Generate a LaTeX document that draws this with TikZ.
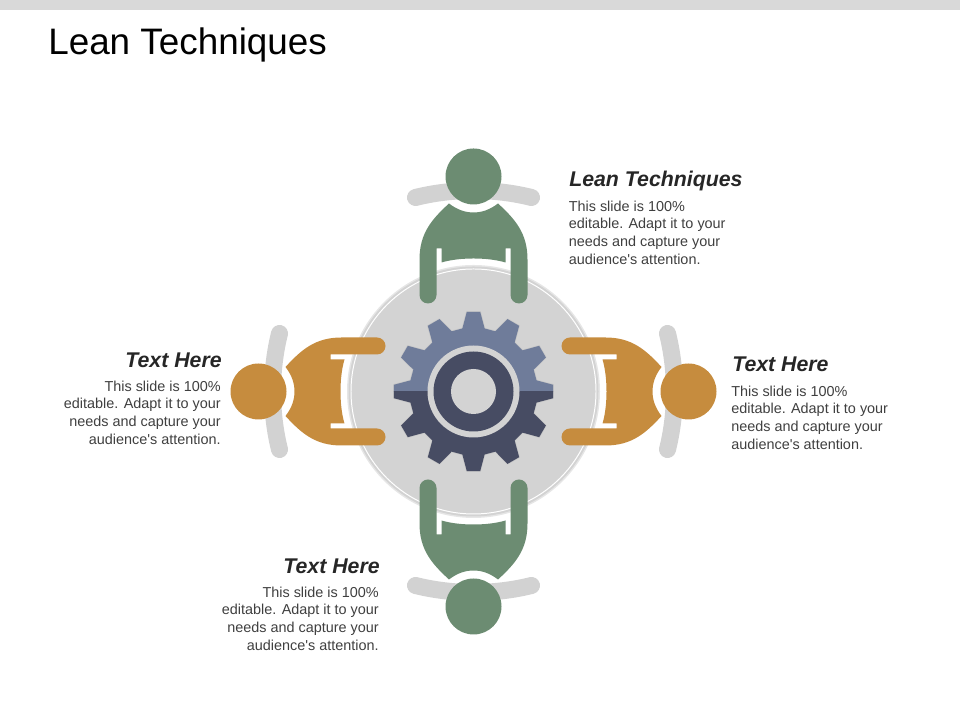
\documentclass[tikz,border=0pt]{standalone}
\usepackage{fontspec}
\setmainfont{Liberation Sans}
\definecolor{chairgray}{HTML}{D2D2D2}
\definecolor{tablegray}{HTML}{D3D3D3}
\definecolor{tablerim}{HTML}{E6E6E6}
\definecolor{bargray}{HTML}{D9D9D9}
\definecolor{leangreen}{HTML}{6C8C72}
\definecolor{leanorange}{HTML}{C68C3E}
\definecolor{gearlight}{HTML}{6F7C9A}
\definecolor{geardark}{HTML}{474C63}
\definecolor{inktext}{HTML}{3F3F3F}
\tikzset{
  heading/.style={font=\fontsize{15.15}{18}\selectfont\bfseries\itshape,text=black!85,inner sep=0pt},
  bodyleft/.style={font=\fontsize{10.25}{12.55}\selectfont,text=inktext,align=left,inner sep=0pt},
  bodyright/.style={font=\fontsize{10.25}{12.55}\selectfont,text=inktext,align=right,inner sep=0pt},
}
\begin{document}
\begin{tikzpicture}[x=0.025cm,y=0.025cm,line join=round,line cap=round]
    \def\person[#1,#2]{
        \begin{scope}[shift={(473.5,328.5)},rotate=#1]
            \draw[chairgray,line width=12.1pt] (-58,194) .. controls (-40,198.5) and (-20,201) .. (0,201) .. controls (20,201) and (40,198.5) .. (58,194);
            \fill[#2] (0,215) circle (28);
            \fill[#2] (-24.5,188) .. controls (-16,181.5) and (-8,179) .. (0,179) .. controls (8,179) and (16,181.5) .. (24.5,188)
                .. controls (42,172) and (54,158) .. (54,132) -- (54,96.5) arc (0:-180:8.5) -- (37,143) -- (32,143) -- (32,129)
                .. controls (22,132) and (10,133) .. (0,133) .. controls (-10,133) and (-22,132) .. (-32,129)
                -- (-32,143) -- (-37,143) -- (-37,96.5) arc (0:-180:8.5) -- (-54,132)
                .. controls (-54,158) and (-42,172) .. (-24.5,188) -- cycle;
        \end{scope}
    }
    \def\gearpath{
        \foreach \a in {0,30,...,330} {
            -- ({\a-10}:64) -- ({\a-4.8}:80) -- ({\a+4.8}:80) -- ({\a+10}:64)
        }
    }
    \useasboundingbox (0,0) rectangle (960,720);
    \fill[bargray] (0,709.5) rectangle (960,720);
    \node[anchor=base west,inner sep=0pt,font=\fontsize{26.2}{32}\selectfont] (title) at (48,665.5) {Lean Techniques};
    % table
    \coordinate (tbl) at (473.5,328.5);
    \fill[tablerim] (tbl) circle (126.5);
    \fill[tablegray] (tbl) circle (125);
    \draw[white,line width=0.7pt] (tbl) circle (122.5);
    % people
    \person[0,leangreen]
    \person[90,leanorange]
    \person[180,leangreen]
    \person[-90,leanorange]
    % gear
    \begin{scope}[shift={(tbl)}]
        \draw[black!22,line width=1pt] (-10:64) \gearpath -- cycle;
        \begin{scope}
            \clip (-90,0) rectangle (90,90);
            \fill[gearlight] (-10:64) \gearpath -- cycle;
        \end{scope}
        \begin{scope}
            \clip (-90,-90) rectangle (90,0);
            \fill[geardark] (-10:64) \gearpath -- cycle;
        \end{scope}
        \fill[tablegray] (0,0) circle (46);
        \fill[geardark] (0,0) circle (40);
        \fill[tablegray] (0,0) circle (22.5);
    \end{scope}
    % texts
    \node[heading,anchor=west] (headtop) at (569,538.5) {Lean Techniques};
    \node[bodyleft,anchor=north west] (texttop) at (568.5,519.5) {This slide is 100\%\\editable. Adapt it to your\\needs and capture your\\audience\textquotesingle s attention.};
    \node[heading,anchor=east] (headleft) at (222,360) {Text Here};
    \node[bodyright,anchor=north east] (textleft) at (221,339.5) {This slide is 100\%\\editable. Adapt it to your\\needs and capture your\\audience\textquotesingle s attention.};
    \node[heading,anchor=west] (headright) at (732,356) {Text Here};
    \node[bodyleft,anchor=north west] (textright) at (731,334.5) {This slide is 100\%\\editable. Adapt it to your\\needs and capture your\\audience\textquotesingle s attention.};
    \node[heading,anchor=east] (headbottom) at (380,154) {Text Here};
    \node[bodyright,anchor=north east] (textbottom) at (379,133.5) {This slide is 100\%\\editable. Adapt it to your\\needs and capture your\\audience\textquotesingle s attention.};
\end{tikzpicture}
\end{document}
